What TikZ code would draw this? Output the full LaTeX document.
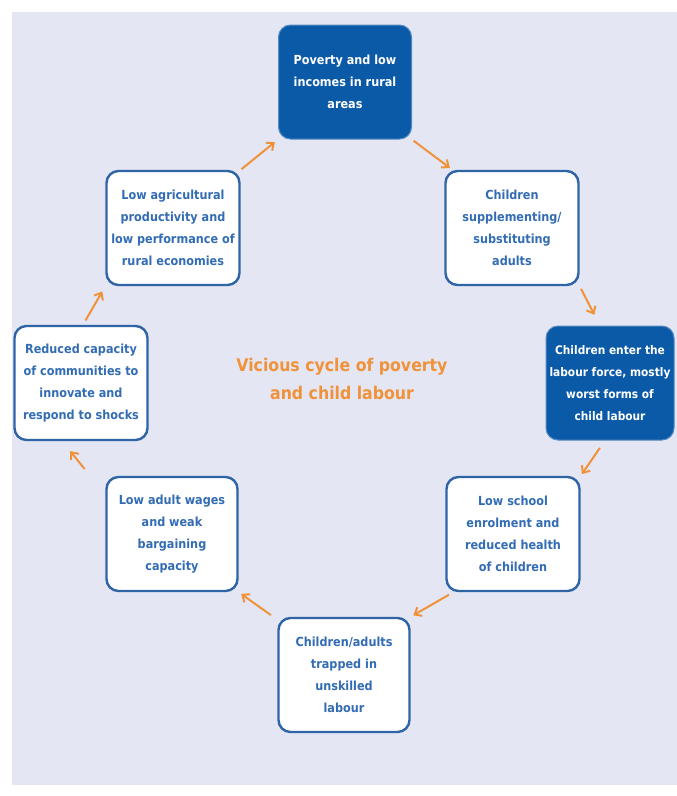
\documentclass[tikz,border=0pt]{standalone}
\usepackage{fontspec}
\setmainfont{DejaVu Sans Condensed}
\usetikzlibrary{arrows.meta}

\definecolor{darkbox}{RGB}{11,90,168}
\definecolor{boxline}{RGB}{47,101,166}
\definecolor{boxtext}{RGB}{50,108,180}
\definecolor{cycorange}{RGB}{240,146,58}
\definecolor{panel}{RGB}{228,230,243}

\begin{document}
\begin{tikzpicture}[x=1pt, y=-1pt,
  stage/.style={rounded corners=12pt, minimum width=133pt, minimum height=114pt,
    inner sep=0pt, align=center, font=\bfseries\fontsize{12.5}{22}\selectfont},
  lightstage/.style={stage, draw=boxline, line width=2.4pt, fill=white, text=boxtext},
  darkstage/.style={stage, draw=darkbox!70!white, line width=1pt, fill=darkbox, text=white},
  flow/.style={draw=cycorange, line width=2pt, -{Straight Barb[length=6pt,width=10pt]}}]
\useasboundingbox (0,0) rectangle (677,796);
\fill[white] (0,0) rectangle (677,796);
\fill[panel] (12,12) rectangle (677,785);

\node[darkstage]  (pov)     at (345,82)  {Poverty and low\\incomes in rural\\areas};
\node[lightstage] (supp)    at (512,228) {Children\\supplementing/\\substituting\\adults};
\node[darkstage, minimum width=128pt, font=\bfseries\fontsize{11.8}{22}\selectfont] (enter) at (610,383)
  {Children enter the\\labour force, mostly\\worst forms of\\child labour};
\node[lightstage] (school)  at (513,534) {Low school\\enrolment and\\reduced health\\of children};
\node[lightstage, minimum width=131pt] (trap) at (344,675) {Children/adults\\trapped in\\unskilled\\labour};
\node[lightstage, minimum width=131pt] (wages) at (172,534) {Low adult wages\\and weak\\bargaining\\capacity};
\node[lightstage] (reduced) at (81,383)  {Reduced capacity\\of communities to\\innovate and\\respond to shocks};
\node[lightstage] (agri)    at (173,228) {Low agricultural\\productivity and\\low performance of\\rural economies};

\node[text=cycorange, align=center, font=\bfseries\fontsize{17.5}{28}\selectfont] (title) at (342,379)
  {Vicious cycle of poverty\\and child labour};

% arrows round the cycle
\draw[flow, shorten <=1pt, shorten >=4pt] (agri.north east) -- (pov.south west);
\draw[flow, shorten <=2pt, shorten >=3pt] (pov.south east) -- ([xshift=8pt]supp.north west);
\draw[flow, shorten <=3pt, shorten >=12pt] (supp.south east) -- (enter.100);
\draw[flow, shorten <=9pt, shorten >=2pt] (enter.265) -- (school.north east);
\draw[flow, shorten <=5pt, shorten >=3pt] ([xshift=8pt]school.south west) -- (trap.north east);
\draw[flow, shorten <=3pt, shorten >=3pt] ([xshift=-4pt]trap.north west) -- (wages.south east);
\draw[flow, shorten <=1pt, shorten >=5pt] ([shift={(-20,-6)}]wages.north west) -- ([shift={(-14,6)}]reduced.south);
\draw[flow, shorten <=5pt, shorten >=6pt] ([xshift=2pt]reduced.north) -- (agri.south west);
\end{tikzpicture}
\end{document}
